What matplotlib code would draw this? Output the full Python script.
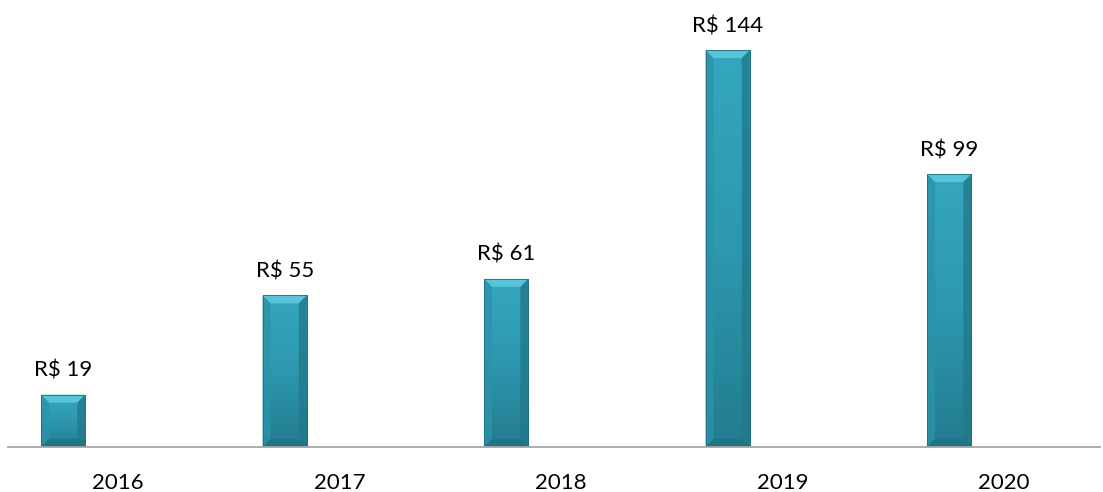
import matplotlib
matplotlib.use("Agg")
import matplotlib.pyplot as plt
import numpy as np
from matplotlib.patches import Polygon
from matplotlib.colors import LinearSegmentedColormap

categories = ["2016", "2017", "2018", "2019", "2020"]
values = [19, 55, 61, 144, 99]
labels = ["R$ 19", "R$ 55", "R$ 61", "R$ 144", "R$ 99"]

plt.rcParams['font.family'] = ['Lato', 'DejaVu Sans']

W, H = 1103, 492
fig = plt.figure(figsize=(W / 100, H / 100), dpi=100)
ax = fig.add_axes([8 / W, 45 / H, (1100 - 8) / W, 441 / H])

x = np.arange(len(categories))
offset = -0.248
width = 0.2
ax.set_xlim(-0.497, 4.433)
ax.set_ylim(0, 160)

bars = ax.bar(x + offset, values, width=width, color="#2C98AF", zorder=2)

# pixel -> data scale
ppx = ax.get_position().width * W / (ax.get_xlim()[1] - ax.get_xlim()[0])
ppy = ax.get_position().height * H / (ax.get_ylim()[1] - ax.get_ylim()[0])
bx = 8 / ppx
by = 8 / ppy

cmap = LinearSegmentedColormap.from_list("b", ["#237C8F", "#2D98AF", "#34A7BF"])
for b in bars:
    x0, y0 = b.get_x(), b.get_y()
    w, h = b.get_width(), b.get_height()
    grad = np.linspace(0, 1, 100).reshape(-1, 1)
    im = ax.imshow(grad, extent=[x0, x0 + w, y0, y0 + h], origin="lower",
                   cmap=cmap, aspect="auto", zorder=3)
    im.set_clip_path(b)
    bev_y = min(by, h / 3)
    # top bevel
    ax.add_patch(Polygon([[x0, y0 + h], [x0 + w, y0 + h], [x0 + w - bx, y0 + h - bev_y],
                          [x0 + bx, y0 + h - bev_y]], closed=True, facecolor="#58C4D9",
                         edgecolor="none", zorder=4))
    # left bevel
    ax.add_patch(Polygon([[x0, y0 + h], [x0 + bx, y0 + h - bev_y], [x0 + bx, y0 + bev_y],
                          [x0, y0]], closed=True, facecolor="#2B93A9", edgecolor="none",
                         alpha=0.8, zorder=4))
    # right bevel
    ax.add_patch(Polygon([[x0 + w, y0 + h], [x0 + w - bx, y0 + h - bev_y], [x0 + w - bx, y0 + bev_y],
                          [x0 + w, y0]], closed=True, facecolor="#22798B", edgecolor="none",
                         alpha=0.8, zorder=4))
    # bottom bevel
    ax.add_patch(Polygon([[x0, y0], [x0 + w, y0], [x0 + w - bx, y0 + bev_y],
                          [x0 + bx, y0 + bev_y]], closed=True, facecolor="#1F6F80",
                         edgecolor="none", alpha=0.6, zorder=4))
    # outline
    ax.add_patch(Polygon([[x0, y0], [x0, y0 + h], [x0 + w, y0 + h], [x0 + w, y0]], closed=True,
                         facecolor="none", edgecolor="#1E6E7F", linewidth=0.6, zorder=5))

for xi, v, lab in zip(x, values, labels):
    ax.annotate(lab, (xi + offset, v), xytext=(0, 10), textcoords="offset points",
                ha="center", va="bottom", fontsize=16, color="#000000")

ax.set_xticks(x)
ax.set_xticklabels(categories, fontsize=16)
ax.tick_params(axis="x", length=0, pad=19)
ax.set_yticks([])
for s in ["top", "left", "right"]:
    ax.spines[s].set_visible(False)
ax.spines["bottom"].set_color("#A6A6A6")
ax.spines["bottom"].set_linewidth(1.3)
ax.spines["bottom"].set_zorder(6)

fig.savefig("out.png", dpi=100)
